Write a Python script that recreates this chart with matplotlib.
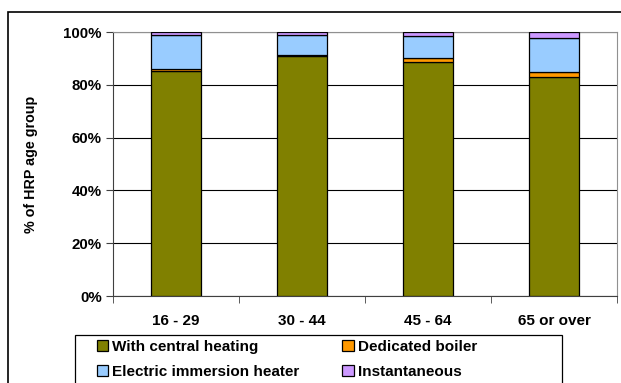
import numpy as np
from matplotlib import pyplot as plt
from matplotlib.patches import Rectangle

plt.rcParams['font.family'] = ['Liberation Sans', 'DejaVu Sans']
plt.rcParams['font.weight'] = 'bold'

groups = ['16 - 29', '30 - 44', '45 - 64', '65 or over']
central = [85.3, 91.0, 88.8, 83.0]
boiler = [0.8, 0.3, 1.2, 2.0]
immersion = [12.8, 7.5, 8.5, 12.8]
instant = [1.1, 1.2, 1.5, 2.2]

series = [('With central heating', central, '#808000'),
          ('Dedicated boiler', boiler, '#FF9900'),
          ('Electric immersion heater', immersion, '#99CCFF'),
          ('Instantaneous', instant, '#CC99FF')]

fig = plt.figure(figsize=(6.21, 3.83), dpi=100)
ax = fig.add_axes([113/621, 1 - 296/383, 504/621, 264/383])

x = np.arange(len(groups))
bottom = np.zeros(len(groups))
bars = []
for name, vals, col in series:
    b = ax.bar(x, vals, 0.4, bottom=bottom, color=col, edgecolor='black',
               linewidth=0.9, label=name, zorder=3)
    bars.append(b)
    bottom += np.array(vals)

ax.set_xlim(-0.5, 3.5)
ax.set_ylim(0, 100)
ax.set_yticks(np.arange(0, 101, 20))
ax.set_yticklabels(['%d%%' % v for v in range(0, 101, 20)], fontsize=10.8)
ax.yaxis.grid(True, color='black', linewidth=0.8, zorder=0)
ax.set_xticks(x)
ax.set_xticklabels(groups, fontsize=11)
ax.set_xticks(np.arange(-0.5, 3.6, 1), minor=True)
ax.tick_params(axis='x', which='major', length=0, pad=13)
ax.tick_params(axis='x', which='minor', length=5, direction='out', color='#404040')
ax.tick_params(axis='y', length=5, direction='out', color='#404040', pad=3)
ax.set_ylabel('% of HRP age group', fontsize=10.3, fontweight='bold')
ax.yaxis.set_label_coords(-0.149, 0.5)
for s in ['left', 'bottom']:
    ax.spines[s].set_color('#404040')
for s in ['right', 'top']:
    ax.spines[s].set_color('#909090')

# outer chart frame
fig.patches.append(Rectangle((8/621, -0.1), 1.0, 1 - 12/383 + 0.1,
                             transform=fig.transFigure, fill=False,
                             edgecolor='black', linewidth=1.2))
# legend frame
fig.patches.append(Rectangle((75/621, -0.1), 487/621, 1 - 335/383 + 0.1,
                             transform=fig.transFigure, fill=False,
                             edgecolor='black', linewidth=0.9))

order = [0, 2, 1, 3]
leg = fig.legend([bars[i] for i in order], [series[i][0] for i in order],
                 loc='upper left', bbox_to_anchor=(97/621, 1 - 340/383),
                 ncol=2, fontsize=11, frameon=False,
                 handlelength=0.75, handleheight=0.75, handletextpad=0.25,
                 borderaxespad=0, borderpad=0, labelspacing=0.7, columnspacing=2.8)

fig.savefig('out.png', dpi=100)
